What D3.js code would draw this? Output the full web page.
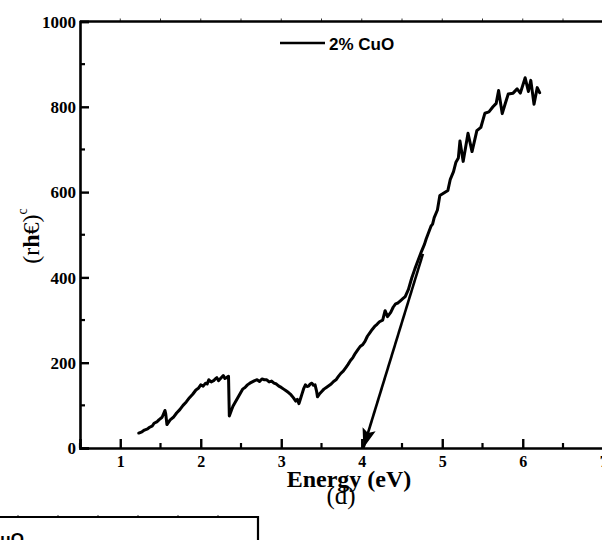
<!DOCTYPE html>
<html>
<head>
<meta charset="utf-8">
<script src="https://cdn.jsdelivr.net/npm/d3@7"></script>
<style>
    body { margin: 0; background: #fff; }
    svg { display: block; }
</style>
</head>
<body>
<div id="chart-area"></div>
<script>

// photon energy (eV)
var energy = [1.23, 1.27, 1.30, 1.34, 1.36, 1.40, 1.42, 1.46, 1.48, 1.52,
    1.555, 1.565, 1.58, 1.62, 1.66, 1.70, 1.74, 1.78, 1.82, 1.86,
    1.90, 1.94, 1.97, 2.00, 2.03, 2.06, 2.08, 2.10, 2.13, 2.16,
    2.18, 2.20, 2.22, 2.24, 2.26, 2.28, 2.30, 2.32, 2.345, 2.355,
    2.38, 2.40, 2.43, 2.46, 2.49, 2.52, 2.55, 2.58, 2.61, 2.64,
    2.67, 2.70, 2.73, 2.76, 2.79, 2.82, 2.85, 2.88, 2.91, 2.94,
    2.97, 3.00, 3.03, 3.06, 3.09, 3.12, 3.15, 3.18, 3.20, 3.22,
    3.24, 3.26, 3.28, 3.30, 3.32, 3.34, 3.36, 3.38, 3.40, 3.42,
    3.44, 3.45, 3.48, 3.50, 3.53, 3.56, 3.59, 3.62, 3.65, 3.68,
    3.71, 3.74, 3.77, 3.80, 3.83, 3.86, 3.89, 3.92, 3.95, 3.98,
    4.01, 4.04, 4.07, 4.10, 4.13, 4.16, 4.19, 4.22, 4.26, 4.29,
    4.32, 4.36, 4.39, 4.42, 4.45, 4.48, 4.51, 4.54, 4.58, 4.62,
    4.66, 4.70, 4.74, 4.78, 4.80, 4.82, 4.86, 4.88, 4.90, 4.94,
    4.97, 5.02, 5.07, 5.10, 5.14, 5.17, 5.20, 5.22, 5.26, 5.32,
    5.37, 5.43, 5.48, 5.53, 5.58, 5.63, 5.67, 5.70, 5.745, 5.78,
    5.82, 5.88, 5.93, 5.97, 6.03, 6.07, 6.10, 6.14, 6.18, 6.21];

// (ahv)^2 values for 2% CuO
var absorb = [35, 38, 42, 45, 48, 52, 58, 62, 66, 72,
    88, 80, 55, 66, 72, 82, 90, 100, 108, 118,
    126, 136, 140, 148, 145, 152, 150, 160, 155, 158,
    162, 165, 158, 162, 166, 170, 163, 165, 168, 75,
    88, 98, 108, 118, 128, 138, 142, 148, 152, 155,
    158, 160, 156, 162, 160, 160, 155, 157, 152, 150,
    145, 142, 138, 134, 130, 125, 118, 110, 114, 104,
    116, 128, 140, 148, 144, 145, 150, 152, 147, 148,
    132, 120, 128, 132, 138, 142, 146, 150, 156, 160,
    168, 175, 180, 188, 196, 205, 212, 222, 230, 238,
    242, 250, 262, 270, 278, 285, 290, 296, 300, 322,
    308, 318, 330, 338, 340, 345, 350, 355, 372, 398,
    420, 440, 460, 478, 490, 500, 520, 525, 540, 558,
    592, 598, 604, 630, 648, 670, 680, 720, 672, 738,
    695, 744, 752, 785, 788, 800, 808, 838, 784, 806,
    830, 832, 842, 832, 868, 836, 862, 806, 845, 833];

// tangent extrapolation arrow: [energy, value] start and end
var arrowFrom = [4.76, 455];
var arrowTo = [4.02, 0];

var xTicks = [1, 2, 3, 4, 5, 6, 7];
var yTicks = [0, 200, 400, 600, 800, 1000];
var seriesName = "2% CuO";

var svgWidth = 602, svgHeight = 540;
var margin = {top: 21.5, left: 80};
var serif = "'Liberation Serif', 'Times New Roman', serif";
var sans = "'Liberation Sans', Arial, sans-serif";

var svg = d3.select("#chart-area").append("svg")
    .attr("width", svgWidth).attr("height", svgHeight);

var x = d3.scaleLinear().domain([0.5, 7.5]).range([margin.left, margin.left + 7 * 80.5]);
var y = d3.scaleLinear().domain([0, 1000]).range([448, margin.top]);

// minor tick helpers
var xMinor = d3.range(0.5, 7.51, 0.5).filter(function(d) { return xTicks.indexOf(d) < 0; });
var yMinor = d3.range(100, 1000, 200);

// top frame line with small outer ticks
svg.append("line")
    .attr("x1", x(0.5)).attr("x2", x(7.5))
    .attr("y1", y(1000)).attr("y2", y(1000))
    .attr("stroke", "#000").attr("stroke-width", 2.6);
svg.selectAll(".top-tick")
    .data(d3.range(1, 7.51, 0.5)).enter()
    .append("line")
    .attr("x1", function(d) { return x(d); }).attr("x2", function(d) { return x(d); })
    .attr("y1", y(1000)).attr("y2", y(1000) - 3)
    .attr("stroke", "#000").attr("stroke-width", 0.8);

// X Axis (ticks inward)
var xAxisCall = d3.axisTop(x).tickValues(xTicks).tickSize(9).tickFormat(d3.format("d"));
var xAxis = svg.append("g")
    .attr("class", "x axis")
    .attr("transform", "translate(0 " + y(0) + ")")
    .call(xAxisCall);
xAxis.select(".domain").attr("stroke-width", 2.6);
xAxis.selectAll(".tick line").attr("stroke-width", 2.4);
xAxis.selectAll("text")
    .attr("y", 19).attr("dy", 0)
    .attr("font-family", serif).attr("font-weight", "bold").attr("font-size", "16px")
    .attr("fill", "#000");
xAxis.selectAll(".minor")
    .data(xMinor).enter()
    .append("line")
    .attr("class", "minor")
    .attr("x1", function(d) { return x(d); }).attr("x2", function(d) { return x(d); })
    .attr("y1", 0).attr("y2", -5)
    .attr("stroke", "#000").attr("stroke-width", 2.2);

// Y Axis (ticks inward)
var yAxisCall = d3.axisRight(y).tickValues(yTicks).tickSize(9).tickFormat(d3.format("d"));
var yAxis = svg.append("g")
    .attr("class", "y axis")
    .attr("transform", "translate(" + margin.left + " 0)")
    .call(yAxisCall);
yAxis.select(".domain").attr("stroke-width", 2.6);
yAxis.selectAll(".tick line").attr("stroke-width", 2.4);
yAxis.selectAll("text")
    .attr("x", -4).attr("dy", "0.34em")
    .attr("text-anchor", "end")
    .attr("font-family", serif).attr("font-weight", "bold").attr("font-size", "17px")
    .attr("fill", "#000");
yAxis.selectAll(".minor")
    .data(yMinor).enter()
    .append("line")
    .attr("class", "minor")
    .attr("x1", 0).attr("x2", 5)
    .attr("y1", function(d) { return y(d); }).attr("y2", function(d) { return y(d); })
    .attr("stroke", "#000").attr("stroke-width", 2.2);

// data line
var points = energy.map(function(e, i) { return [e, absorb[i]]; });
var line = d3.line()
    .x(function(d) { return x(d[0]); })
    .y(function(d) { return y(d[1]); });
svg.append("path")
    .datum(points)
    .attr("fill", "none")
    .attr("stroke", "#000")
    .attr("stroke-width", 3)
    .attr("stroke-linejoin", "round")
    .attr("stroke-linecap", "round")
    .attr("d", line);

// arrow head marker
svg.append("defs").append("marker")
    .attr("id", "arrowhead")
    .attr("viewBox", "0 0 10 10")
    .attr("refX", 10).attr("refY", 5)
    .attr("markerWidth", 7.5).attr("markerHeight", 7.5)
    .attr("markerUnits", "strokeWidth")
    .attr("orient", "auto")
    .append("path")
    .attr("d", "M0,1.5 L10,5 L0,8.5 L2,5 Z")
    .attr("fill", "#000");

svg.append("line")
    .attr("x1", x(arrowFrom[0])).attr("y1", y(arrowFrom[1]))
    .attr("x2", x(arrowTo[0])).attr("y2", y(arrowTo[1]))
    .attr("stroke", "#000").attr("stroke-width", 2.6)
    .attr("marker-end", "url(#arrowhead)");

// legend
var legend = svg.append("g").attr("class", "legend");
legend.append("line")
    .attr("x1", 280).attr("x2", 325).attr("y1", 43).attr("y2", 43)
    .attr("stroke", "#000").attr("stroke-width", 2.6);
legend.append("text")
    .attr("x", 329).attr("y", 49.5)
    .attr("font-family", sans).attr("font-weight", "bold").attr("font-size", "17px")
    .attr("fill", "#000")
    .text(seriesName);

// axis titles
svg.append("text")
    .attr("x", 349).attr("y", 487)
    .attr("text-anchor", "middle")
    .attr("font-family", serif).attr("font-weight", "bold").attr("font-size", "24px")
    .attr("fill", "#000")
    .text("Energy (eV)");

var yTitle = svg.append("text")
    .attr("transform", "translate(39 236) rotate(-90)")
    .attr("text-anchor", "middle")
    .attr("font-family", serif).attr("font-size", "24px")
    .attr("fill", "#000");
yTitle.append("tspan").text("(r");
yTitle.append("tspan").attr("font-weight", "bold").text("h");
yTitle.append("tspan").text("\u20ac)");
yTitle.append("tspan").attr("dy", -12).attr("font-size", "14px").text("c");

// panel caption
svg.append("text")
    .attr("x", 341).attr("y", 504)
    .attr("text-anchor", "middle")
    .attr("font-family", serif).attr("font-size", "25px")
    .attr("fill", "#000")
    .text("(d)");

// edge of the next panel below
var nextPanel = svg.append("g").attr("class", "next-panel");
nextPanel.append("path")
    .attr("d", "M-5,517 L258,517 L258,545")
    .attr("fill", "none").attr("stroke", "#000").attr("stroke-width", 2.2);
nextPanel.selectAll("line")
    .data([18, 58, 98, 138, 178, 218]).enter()
    .append("line")
    .attr("x1", function(d) { return d; }).attr("x2", function(d) { return d; })
    .attr("y1", 517).attr("y2", 515)
    .attr("stroke", "#000").attr("stroke-width", 0.8);
nextPanel.append("text")
    .attr("x", -12).attr("y", 545)
    .attr("font-family", sans).attr("font-weight", "bold").attr("font-size", "17px")
    .attr("fill", "#000")
    .text("CuO");

</script>
</body>
</html>
